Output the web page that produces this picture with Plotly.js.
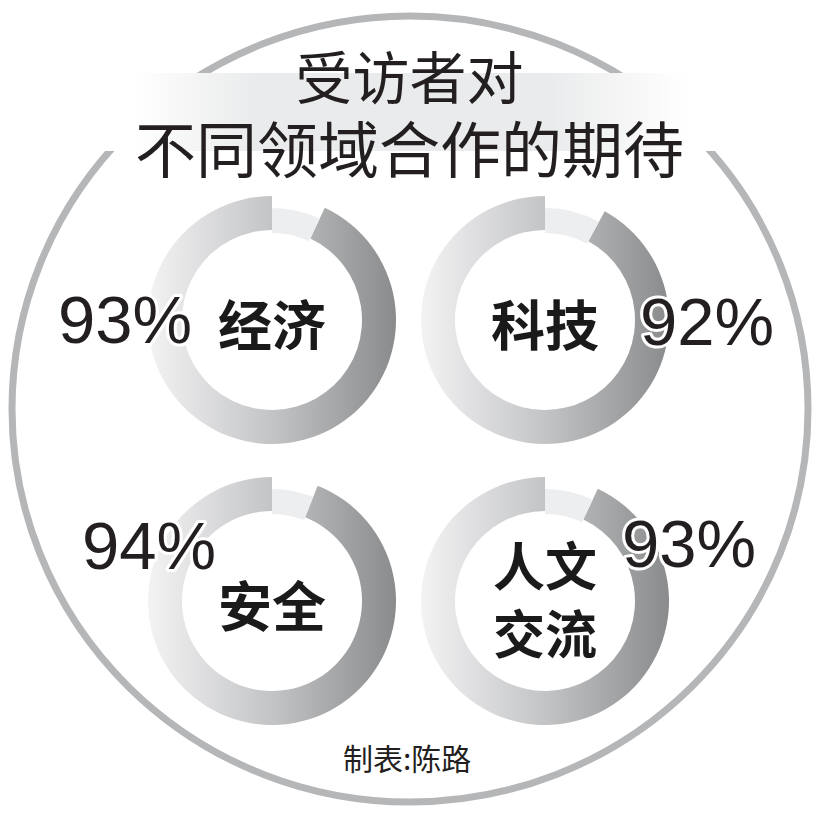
<!DOCTYPE html>
<html>
<head>
<meta charset="utf-8">
<script src="https://cdn.plot.ly/plotly-3.0.1.min.js"></script>
<style>
html,body{margin:0;padding:0;background:#fff;}
#chart{width:822px;height:822px;}
</style>
</head>
<body>
<div id="chart"></div>
<script>
// ---- data ----
const categories = ['经济', '科技', '安全', '人文<br>交流'];
const percents = [93, 92, 94, 93];
const pctLabels = ['93%', '92%', '94%', '93%'];
const titleLine1 = '受访者对';
const titleLine2 = '不同领域合作的期待';
const credit = '制表:陈路';

// ---- layout helpers (positions in px) ----
const W = 822;
const fx = x => x / W;
const fy = y => 1 - y / W;
const donutCenters = [[272, 320], [545, 320], [272, 601], [545, 601]];
const labelY = [322, 322, 603, 597];
const labelSize = [54, 54, 54, 52];
const pctPos = [[125, 319], [707, 321], [149, 545], [689, 543]];
const R_OUT = 124, R_HOLE = 90, R_GAP_OUT = 112, R_GAP_IN = 87;
const MAIN_COL = '#a1a2a3';
const GAP_COL = '#eceef0';
const BAND_COL = '#e7e8e9';

const traces = [];
categories.forEach((c, i) => {
  const [cx, cy] = donutCenters[i];
  const vals = [100 - percents[i], percents[i]];
  traces.push({
    type: 'pie', values: vals, labels: ['other', c], sort: false,
    direction: 'clockwise', rotation: 0, hole: R_HOLE / R_OUT,
    marker: {colors: ['rgba(0,0,0,0)', MAIN_COL], line: {width: 0}},
    textinfo: 'none', hoverinfo: 'none', showlegend: false,
    domain: {x: [fx(cx - R_OUT), fx(cx + R_OUT)], y: [fy(cy + R_OUT), fy(cy - R_OUT)]}
  });
  traces.push({
    type: 'pie', values: vals, labels: ['other', c], sort: false,
    direction: 'clockwise', rotation: 0, hole: R_GAP_IN / R_GAP_OUT,
    marker: {colors: [GAP_COL, 'rgba(0,0,0,0)'], line: {width: 0}},
    textinfo: 'none', hoverinfo: 'none', showlegend: false,
    domain: {x: [fx(cx - R_GAP_OUT), fx(cx + R_GAP_OUT)], y: [fy(cy + R_GAP_OUT), fy(cy - R_GAP_OUT)]}
  });
});

const annotations = [];
annotations.push({xref: 'paper', yref: 'paper', x: fx(409), y: fy(112),
  text: titleLine1 + '<br><span style="font-size:61px">' + titleLine2 + '</span>',
  showarrow: false, xanchor: 'center', yanchor: 'middle', align: 'center',
  font: {family: 'Noto Sans CJK SC', size: 57, color: '#231f20'}});
categories.forEach((c, i) => {
  const [cx] = donutCenters[i];
  annotations.push({xref: 'paper', yref: 'paper', x: fx(cx), y: fy(labelY[i]), text: c,
    showarrow: false, xanchor: 'center', yanchor: 'middle',
    font: {family: 'Noto Sans CJK SC', size: labelSize[i], weight: 700, color: '#1a1a1a'}});
});
const pctStart = annotations.length;
pctLabels.forEach((t, i) => {
  const [px, py] = pctPos[i];
  annotations.push({xref: 'paper', yref: 'paper', x: fx(px), y: fy(py), text: t,
    showarrow: false, xanchor: 'center', yanchor: 'middle',
    font: {family: 'Liberation Sans, Arial, sans-serif', size: 67, color: '#231f20'}});
});
annotations.push({xref: 'paper', yref: 'paper', x: fx(407), y: fy(757), text: credit,
  showarrow: false, xanchor: 'center', yanchor: 'middle',
  font: {family: 'Noto Sans CJK SC', size: 30, color: '#231f20'}});

const shapes = [
  {type: 'circle', xref: 'paper', yref: 'paper', layer: 'below',
   x0: fx(12), x1: fx(808), y0: fy(802), y1: fy(16),
   line: {color: '#b5b6b8', width: 7}, fillcolor: 'rgba(0,0,0,0)'},
  {type: 'rect', xref: 'paper', yref: 'paper', layer: 'below',
   x0: fx(96), x1: fx(726), y0: fy(151), y1: fy(73),
   line: {width: 0}, fillcolor: BAND_COL}
];

const layout = {
  width: W, height: W, margin: {l: 0, r: 0, t: 0, b: 0},
  paper_bgcolor: '#ffffff', plot_bgcolor: '#ffffff',
  showlegend: false, shapes: shapes, annotations: annotations
};

const gd = document.getElementById('chart');
Plotly.newPlot(gd, traces, layout, {staticPlot: true, displayModeBar: false}).then(() => {
  const svgNS = 'http://www.w3.org/2000/svg';
  const defs = gd.querySelector('svg.main-svg defs');
  function grad(id, stops) {
    const g = document.createElementNS(svgNS, 'linearGradient');
    g.setAttribute('id', id);
    g.setAttribute('x1', '0'); g.setAttribute('y1', '0');
    g.setAttribute('x2', '1'); g.setAttribute('y2', '0');
    stops.forEach(([o, c]) => {
      const s = document.createElementNS(svgNS, 'stop');
      s.setAttribute('offset', o); s.setAttribute('stop-color', c);
      g.appendChild(s);
    });
    defs.appendChild(g);
  }
  grad('donutGrad', [[0, '#f3f3f4'], [0.5, '#c3c4c6'], [1, '#8a8b8d']]);
  grad('bandGrad', [[0, '#ffffff'], [0.06, '#ffffff'], [0.25, '#eaebec'], [0.72, '#eaebec'], [0.94, '#ffffff'], [1, '#ffffff']]);
  gd.querySelectorAll('path').forEach(p => {
    const f = p.style.fill || '';
    if (f.replace(/\s/g, '') === 'rgb(161,162,163)') p.style.fill = 'url(#donutGrad)';
    if (f.replace(/\s/g, '') === 'rgb(231,232,233)') p.style.fill = 'url(#bandGrad)';
  });
  gd.querySelectorAll('g.annotation').forEach(a => {
    const idx = parseInt(a.getAttribute('data-index'), 10);
    if (idx >= pctStart && idx < pctStart + pctLabels.length) {
      const t = a.querySelector('text');
      if (t) {
        t.style.stroke = '#ffffff';
        t.style.strokeWidth = '6px';
        t.style.paintOrder = 'stroke';
        t.style.strokeLinejoin = 'round';
      }
    }
  });
});
</script>
</body>
</html>
